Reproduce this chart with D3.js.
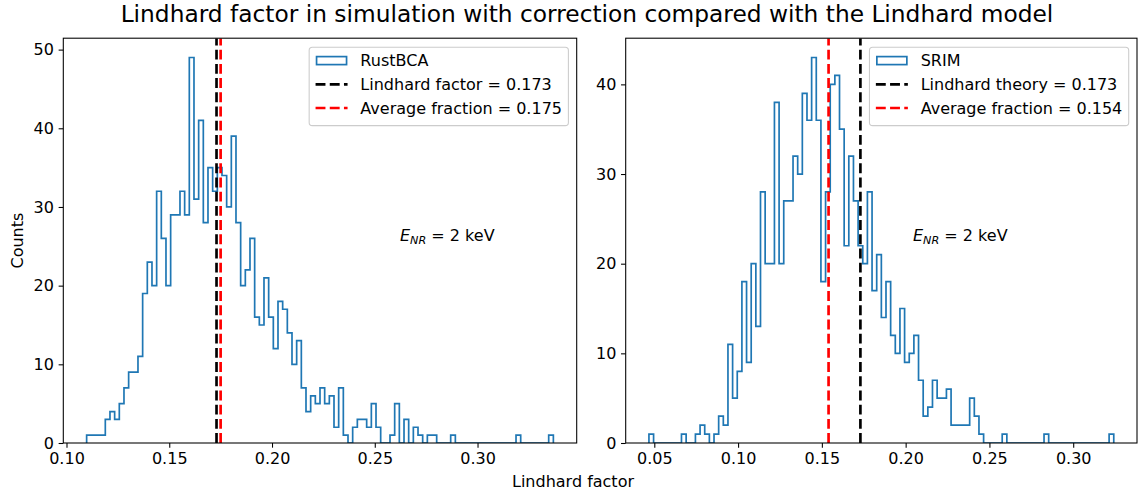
<!DOCTYPE html>
<html>
<head>
<meta charset="utf-8">
<script src="https://cdn.jsdelivr.net/npm/d3@7"></script>
<style>
  body { margin: 0; background: #fff; }
  svg { display: block; font-family: "DejaVu Sans", sans-serif; }
  text { white-space: pre; }
</style>
</head>
<body>
<svg id="fig" width="1138" height="495"></svg>
<script>
// ---- data -------------------------------------------------------------
// RustBCA: 100 equal-width bins between the smallest and largest Lindhard factor
const rustRange = [0.1098, 0.3369];
const rustCounts = [
  1, 1, 1, 1, 3, 4, 3, 5, 7, 9,
  9, 11, 19, 23, 20, 32, 26, 20, 29, 29,
  32, 29, 49, 31, 41, 28, 35, 32, 35, 34,
  30, 39, 28, 20, 22, 26, 16, 15, 21, 16,
  12, 18, 17, 14, 10, 13, 7, 4, 6, 5,
  7, 5, 6, 2, 7, 1, 0, 2, 3, 3,
  2, 5, 2, 0, 0, 1, 5, 0, 3, 0,
  2, 1, 0, 1, 1, 0, 0, 0, 1, 0,
  0, 0, 0, 0, 0, 0, 0, 0, 0, 0,
  0, 0, 1, 0, 0, 0, 0, 0, 0, 1
];

// SRIM: 100 equal-width bins
const srimRange = [0.0468, 0.3242];
const srimCounts = [
  1, 0, 0, 0, 0, 0, 0, 1, 0, 0,
  1, 2, 1, 0, 1, 3, 2, 11, 5, 8,
  18, 9, 20, 13, 28, 20, 20, 38, 20, 27,
  27, 32, 30, 39, 36, 43, 36, 18, 28, 40,
  41, 35, 22, 32, 27, 22, 20, 28, 17, 21,
  14, 18, 12, 10, 15, 9, 10, 12, 7, 3,
  4, 7, 5, 5, 6, 2, 2, 2, 2, 5,
  3, 1, 0, 0, 0, 0, 1, 0, 0, 0,
  0, 0, 0, 0, 0, 1, 0, 0, 0, 0,
  0, 0, 0, 0, 0, 0, 0, 0, 0, 1
];

const lindhardFactor = 0.173;
const rustAverage = 0.175;
const srimAverage = 0.154;

const rustXTicks = [0.10, 0.15, 0.20, 0.25, 0.30];
const srimXTicks = [0.05, 0.10, 0.15, 0.20, 0.25, 0.30];
const rustYTicks = [0, 10, 20, 30, 40, 50];
const srimYTicks = [0, 10, 20, 30, 40];

// ---- figure setup -----------------------------------------------------
const W = 1138, H = 495;
const FS = 16;              // base font size
const TICK = 4.67, PAD = 4.67;
const HIST_COLOR = "#1f77b4";
const fmt3 = d3.format(".3f");

const svg = d3.select("#fig");
svg.append("rect").attr("width", W).attr("height", H).attr("fill", "#fff");

const panels = [
  {
    name: "RustBCA", range: rustRange, counts: rustCounts,
    xTicks: rustXTicks, yTicks: rustYTicks,
    box: { x0: 63.3, x1: 576.7, y0: 38.2, y1: 443 },
    lines: [
      { v: lindhardFactor, color: "#000000", label: "Lindhard factor = " + fmt3(lindhardFactor) },
      { v: rustAverage, color: "#ff0000", label: "Average fraction = " + fmt3(rustAverage) }
    ],
    energyX: 400
  },
  {
    name: "SRIM", range: srimRange, counts: srimCounts,
    xTicks: srimXTicks, yTicks: srimYTicks,
    box: { x0: 625.7, x1: 1137, y0: 38.2, y1: 443 },
    lines: [
      { v: lindhardFactor, color: "#000000", label: "Lindhard theory = " + fmt3(lindhardFactor) },
      { v: srimAverage, color: "#ff0000", label: "Average fraction = " + fmt3(srimAverage) }
    ],
    energyX: 913
  }
];

panels.forEach(p => {
  const n = p.counts.length;
  const [lo, hi] = p.range;
  const span = hi - lo;
  const edges = d3.range(n + 1).map(i => lo + i * span / n);
  const maxC = d3.max(p.counts);

  const x = d3.scaleLinear()
    .domain([lo - 0.05 * span, hi + 0.05 * span])
    .range([p.box.x0, p.box.x1]);
  const y = d3.scaleLinear()
    .domain([0, maxC * 1.05])
    .range([p.box.y1, p.box.y0]);

  const g = svg.append("g");
  const clipId = "clip-" + p.name;
  svg.append("clipPath").attr("id", clipId)
    .append("rect")
    .attr("x", p.box.x0).attr("y", p.box.y0)
    .attr("width", p.box.x1 - p.box.x0).attr("height", p.box.y1 - p.box.y0);

  const plot = g.append("g").attr("clip-path", `url(#${clipId})`);

  // step outline of the histogram
  const pts = [[edges[0], 0]];
  p.counts.forEach((c, i) => { pts.push([edges[i], c]); pts.push([edges[i + 1], c]); });
  pts.push([edges[n], 0]);
  plot.append("path")
    .attr("d", d3.line().x(d => x(d[0])).y(d => y(d[1]))(pts))
    .attr("fill", "none")
    .attr("stroke", HIST_COLOR)
    .attr("stroke-width", 1.7)
    .attr("stroke-linejoin", "miter");

  // reference lines (drawn bottom to top so the dash pattern starts at the axis)
  p.lines.forEach(l => {
    plot.append("line")
      .attr("x1", x(l.v)).attr("x2", x(l.v))
      .attr("y1", p.box.y1).attr("y2", p.box.y0)
      .attr("stroke", l.color)
      .attr("stroke-width", 2.67)
      .attr("stroke-dasharray", "9.9,4.3");
  });

  // axes
  const xAxis = d3.axisBottom(x).tickValues(p.xTicks).tickFormat(d3.format(".2f"))
    .tickSize(TICK).tickPadding(PAD).tickSizeOuter(0);
  const yAxis = d3.axisLeft(y).tickValues(p.yTicks).tickFormat(d3.format("d"))
    .tickSize(TICK).tickPadding(PAD).tickSizeOuter(0);

  const gx = g.append("g").attr("transform", `translate(0,${p.box.y1})`).call(xAxis);
  const gy = g.append("g").attr("transform", `translate(${p.box.x0},0)`).call(yAxis);
  [gx, gy].forEach(a => {
    a.select(".domain").remove();
    a.selectAll(".tick line").attr("stroke", "#000").attr("stroke-width", 1.07);
    a.selectAll(".tick text").attr("fill", "#000").attr("font-size", FS)
      .attr("font-family", "DejaVu Sans");
  });

  // spines
  g.append("rect")
    .attr("x", p.box.x0).attr("y", p.box.y0)
    .attr("width", p.box.x1 - p.box.x0).attr("height", p.box.y1 - p.box.y0)
    .attr("fill", "none").attr("stroke", "#000").attr("stroke-width", 1.07);

  // energy annotation
  const et = g.append("text")
    .attr("x", p.energyX).attr("y", 241)
    .attr("font-size", FS).attr("fill", "#000");
  et.append("tspan").attr("font-style", "italic").text("E");
  et.append("tspan").attr("font-style", "italic").attr("font-size", FS * 0.7)
    .attr("dy", 2.6).text("NR");
  et.append("tspan").attr("dy", -2.6).text(" = 2 keV");

  // legend
  const lg = g.append("g");
  const frame = lg.append("rect");
  const entries = [{ type: "patch", label: p.name }].concat(
    p.lines.map(l => ({ type: "line", color: l.color, label: l.label })));
  const rowY = [13.4, 37.1, 60.8];
  const top = p.box.y0 + 9;
  const handleW = 32, padL = 6.4, gapT = 12.8;
  const texts = entries.map((e, i) => lg.append("text")
    .attr("y", top + rowY[i]).attr("dy", "0.36em")
    .attr("font-size", FS).attr("fill", "#000").text(e.label));
  const maxW = d3.max(texts, t => t.node().getComputedTextLength());
  const boxW = padL + handleW + gapT + maxW + padL;
  const right = p.box.x1 - 8.3;
  const left = right - boxW;
  frame.attr("x", left).attr("y", top).attr("width", boxW).attr("height", 78.4)
    .attr("rx", 3.2).attr("fill", "#fff").attr("fill-opacity", 0.8)
    .attr("stroke", "#cccccc").attr("stroke-width", 1.07);
  entries.forEach((e, i) => {
    const cy = top + rowY[i];
    const hx = left + padL;
    if (e.type === "patch") {
      lg.append("rect").attr("x", hx + 1).attr("y", cy - 4)
        .attr("width", handleW - 2).attr("height", 8)
        .attr("fill", "none").attr("stroke", HIST_COLOR).attr("stroke-width", 1.7);
    } else {
      lg.append("line").attr("x1", hx).attr("x2", hx + handleW)
        .attr("y1", cy).attr("y2", cy)
        .attr("stroke", e.color).attr("stroke-width", 2.67)
        .attr("stroke-dasharray", "9.9,4.3");
    }
    texts[i].attr("x", hx + handleW + gapT);
  });
});

// figure-level labels
svg.append("text")
  .attr("x", 587).attr("y", 22)
  .attr("text-anchor", "middle").attr("font-size", 23.3).attr("fill", "#000")
  .text("Lindhard factor in simulation with correction compared with the Lindhard model");

svg.append("text")
  .attr("x", 573).attr("y", 487)
  .attr("text-anchor", "middle").attr("font-size", FS).attr("fill", "#000")
  .text("Lindhard factor");

svg.append("text")
  .attr("transform", "translate(22.5,240.6) rotate(-90)")
  .attr("text-anchor", "middle").attr("font-size", FS).attr("fill", "#000")
  .text("Counts");
</script>
</body>
</html>
